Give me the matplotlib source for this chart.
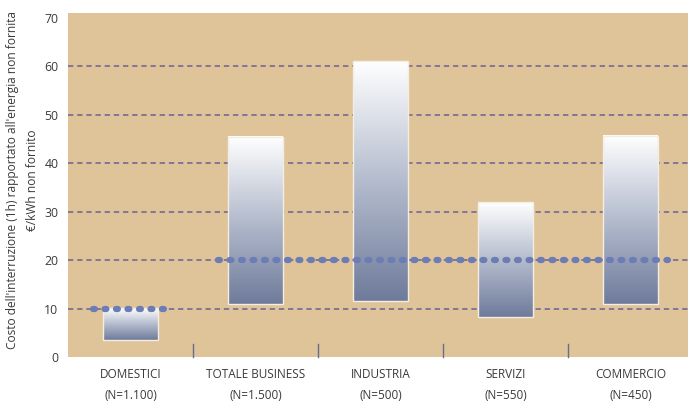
import numpy as np
import matplotlib
matplotlib.use("Agg")
import matplotlib.pyplot as plt
from matplotlib.colors import LinearSegmentedColormap
from matplotlib.patches import Rectangle

# dati
categorie = ["DOMESTICI", "TOTALE BUSINESS", "INDUSTRIA", "SERVIZI", "COMMERCIO"]
campioni = ["(N=1.100)", "(N=1.500)", "(N=500)", "(N=550)", "(N=450)"]
minimo = [3.6, 10.9, 11.5, 8.2, 10.9]
massimo = [10.2, 45.4, 61.0, 31.9, 45.6]
# valori medi: domestici e business
media_domestici = 10
media_business = 20
yticks = [0, 10, 20, 30, 40, 50, 60, 70]

plt.rcParams["font.family"] = ["Open Sans", "DejaVu Sans"]

fig = plt.figure(figsize=(6.88, 4.05), dpi=100)
ax = fig.add_axes([68 / 688, 48 / 405, 620 / 688, 344 / 405])
ax.set_facecolor("#dfc399")
ax.set_xlim(-0.5, 4.46)
ax.set_ylim(0, 71)

for s in ax.spines.values():
    s.set_visible(False)

# griglia tratteggiata
for v in yticks[1:-1]:
    ax.axhline(v, color="#6c6294", lw=1.1, ls=(0, (3.5, 2.5)), zorder=1)

# barre con sfumatura
cmap = LinearSegmentedColormap.from_list("barra", ["#6f7b9b", "#b4bccd", "#ffffff"])
grad = np.linspace(0, 1, 256).reshape(-1, 1)
x = np.arange(len(categorie))
w = 0.44
for xi, lo, hi in zip(x, minimo, massimo):
    ax.imshow(grad, cmap=cmap, origin="lower", aspect="auto",
              extent=(xi - w / 2, xi + w / 2, lo, hi), zorder=2)
    ax.add_patch(Rectangle((xi - w / 2, lo), w, hi - lo, fill=False,
                           ec="#f4ede2", lw=1.0, zorder=3))

# linee puntinate delle medie
dot_style = dict(color="#6b7db4", lw=4.5, dashes=[0.3, 1.54],
                 dash_capstyle="round", zorder=4)
ax.plot([x[0] - 0.3, x[0] + 0.3], [media_domestici] * 2, **dot_style)
ax.plot([x[1] - 0.3, x[-1] + 0.3], [media_business] * 2, **dot_style)

# separatori in basso
for xs in x[:-1] + 0.5:
    ax.plot([xs, xs], [0, 2.7], color="#6b6b8c", lw=1.0, zorder=3, clip_on=False)

ax.set_yticks(yticks)
ax.set_yticklabels([str(v) for v in yticks], fontsize=8.8, color="#3a3a3a")
ax.tick_params(axis="y", length=0, pad=7)
ax.set_xticks([])

for xi, cat, n in zip(x, categorie, campioni):
    ax.text(xi, -3.6, cat, ha="center", va="center", fontsize=8.5, color="#3a3a3a")
    ax.text(xi, -8.0, n, ha="center", va="center", fontsize=8.5, color="#3a3a3a")

fig.text(13 / 688, 0.555, "Costo dell'interruzione (1h) rapportato all'energia non fornita",
         rotation=90, ha="center", va="center", fontsize=8.6, color="#3a3a3a")
fig.text(32 / 688, 0.555, "€/kWh non fornito",
         rotation=90, ha="center", va="center", fontsize=8.6, color="#3a3a3a")

fig.savefig("out.png", dpi=100)
